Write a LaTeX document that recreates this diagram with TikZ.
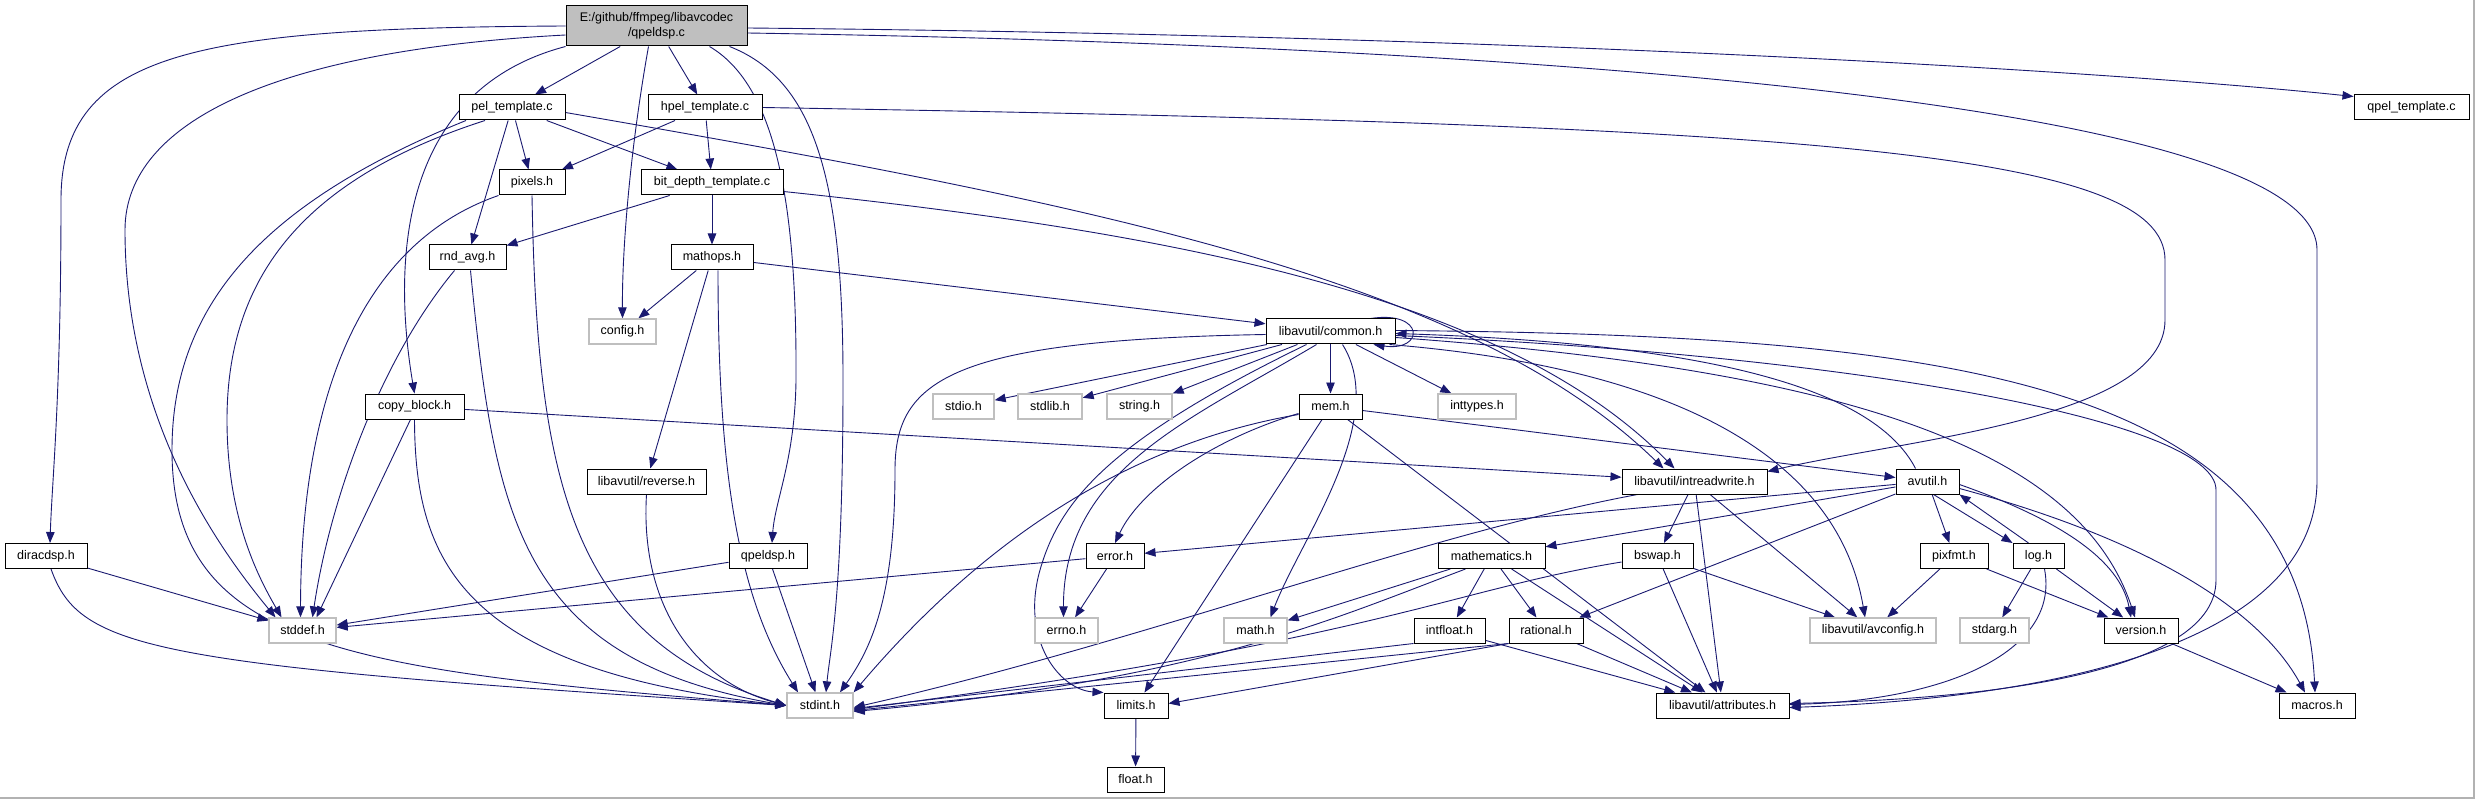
\documentclass[tikz,border=0pt]{standalone}
\usepackage{fontspec}
\setmainfont{Liberation Sans}
\usetikzlibrary{arrows.meta}
\definecolor{edgeblue}{HTML}{191970}
\definecolor{nfgray}{HTML}{BFBFBF}
\pgfdeclarelayer{edges}
\pgfsetlayers{edges,main}
\begin{document}
\begin{tikzpicture}[x=1pt,y=-1pt,font=\fontsize{12.5}{15}\selectfont,
  hdr/.style={draw=black,line width=1pt,fill=white,minimum height=25pt,inner sep=0pt},
  sys/.style={hdr,draw=nfgray,line width=1.3pt},
  top/.style={hdr,fill=nfgray,minimum height=40pt,align=center},
  inc/.style={draw=edgeblue,line width=0.9pt,-{Triangle[length=11pt,width=8.5pt]}}]
  \useasboundingbox (0,0) rectangle (2475,799);
  \node[top,minimum width=181pt] (main) at (656.5,26) {E:/github/ffmpeg/libavcodec\\/qpeldsp.c};
  \node[hdr,minimum width=106pt] (pel) at (512,107.5) {pel\_template.c};
  \node[hdr,minimum width=114pt] (hpel) at (705,107.5) {hpel\_template.c};
  \node[hdr,minimum width=115pt] (qpel) at (2411.5,107.5) {qpel\_template.c};
  \node[hdr,minimum width=66pt] (pixels) at (532,182.5) {pixels.h};
  \node[hdr,minimum width=142pt] (bitdepth) at (712,182.5) {bit\_depth\_template.c};
  \node[hdr,minimum width=77pt] (rndavg) at (467.5,257.5) {rnd\_avg.h};
  \node[hdr,minimum width=82pt] (mathops) at (712,257.5) {mathops.h};
  \node[sys,minimum width=67pt] (config) at (622.5,331.5) {config.h};
  \node[hdr,minimum width=129pt] (common) at (1330.5,331.5) {libavutil/common.h};
  \node[hdr,minimum width=99pt] (copyblock) at (414.5,406.5) {copy\_block.h};
  \node[sys,minimum width=61pt] (stdio) at (963.5,406.5) {stdio.h};
  \node[sys,minimum width=64pt] (stdlib) at (1050,406.5) {stdlib.h};
  \node[sys,minimum width=65pt] (string) at (1139.5,406.5) {string.h};
  \node[hdr,minimum width=63pt] (mem) at (1330.5,406.5) {mem.h};
  \node[sys,minimum width=78pt] (inttypes) at (1477,406.5) {inttypes.h};
  \node[hdr,minimum width=119pt] (reverse) at (646.5,481.5) {libavutil/reverse.h};
  \node[hdr,minimum width=145pt] (intreadwrite) at (1694.5,481.5) {libavutil/intreadwrite.h};
  \node[hdr,minimum width=63pt] (avutil) at (1927.5,481.5) {avutil.h};
  \node[hdr,minimum width=82pt] (diracdsp) at (46,556) {diracdsp.h};
  \node[hdr,minimum width=78pt] (qpeldsph) at (768,556) {qpeldsp.h};
  \node[hdr,minimum width=58pt] (error) at (1115,556) {error.h};
  \node[hdr,minimum width=107pt] (mathematics) at (1491.5,556) {mathematics.h};
  \node[hdr,minimum width=71pt] (bswap) at (1657.5,556) {bswap.h};
  \node[hdr,minimum width=68pt] (pixfmt) at (1954,556) {pixfmt.h};
  \node[hdr,minimum width=51pt] (log) at (2038.5,556) {log.h};
  \node[sys,minimum width=67pt] (stddef) at (302.5,630.5) {stddef.h};
  \node[sys,minimum width=63pt] (errno) at (1066.5,630.5) {errno.h};
  \node[sys,minimum width=63pt] (math) at (1255.5,630.5) {math.h};
  \node[hdr,minimum width=71pt] (intfloat) at (1449.5,630.5) {intfloat.h};
  \node[hdr,minimum width=74pt] (rational) at (1546,630.5) {rational.h};
  \node[sys,minimum width=126pt] (avconfig) at (1873,630.5) {libavutil/avconfig.h};
  \node[sys,minimum width=69pt] (stdarg) at (1994.5,630.5) {stdarg.h};
  \node[hdr,minimum width=74pt] (version) at (2141,630.5) {version.h};
  \node[sys,minimum width=66pt] (stdint) at (820,705.5) {stdint.h};
  \node[hdr,minimum width=64pt] (limits) at (1136,705.5) {limits.h};
  \node[hdr,minimum width=133pt] (attributes) at (1722.5,705.5) {libavutil/attributes.h};
  \node[hdr,minimum width=76pt] (macros) at (2317,705.5) {macros.h};
  \node[hdr,minimum width=57pt] (float) at (1135.5,779.5) {float.h};

  \begin{pgfonlayer}{edges}
  \fill[white] (0,0) rectangle (2475,799);
  \draw[black!30,line width=1.5pt] (0,798) -- (2474,798) -- (2474,0);

  \draw[inc] (main) -- (pel);
  \draw[inc] (main) -- (hpel);
  \draw[inc] ([yshift=-2pt]main.east) .. controls (1500,35) and (2100,70) .. ([yshift=-2pt]qpel.north west);
  \draw[inc] ([xshift=-8pt]main.south) .. controls (630,150) and (622,250) .. (config.north);
  \draw[inc] (main.south west) .. controls (400,90) and (392,260) .. (copyblock.north);
  \draw[inc] (main.west) .. controls (200,28) and (61,50) .. (61,200) .. controls (61,400) and (52,480) .. ([xshift=4pt]diracdsp.north);
  \draw[inc] ([yshift=-9pt]main.west) .. controls (280,50) and (125,120) .. (125,230) .. controls (125,420) and (220,550) .. ([xshift=-27pt]stddef.north);
  \draw[inc] ([xshift=-18pt]main.south east) .. controls (815,80) and (843,180) .. (843,380) .. controls (843,600) and (830,650) .. ([xshift=6pt]stdint.north);
  \draw[inc] ([xshift=-38pt]main.south east) .. controls (775,85) and (797,200) .. (796,380) .. controls (795,460) and (775,500) .. ([xshift=4pt]qpeldsph.north);
  \draw[inc] ([yshift=-7pt]main.east) .. controls (1500,45) and (2317,100) .. (2317,250) -- (2317,480) .. controls (2317,660) and (2000,700) .. ([yshift=-2pt]attributes.east);

  \draw[inc] (pel) -- (pixels);
  \draw[inc] (pel) -- (rndavg);
  \draw[inc] (pel) -- (bitdepth);
  \draw[inc] ([yshift=-5pt]pel.east) .. controls (1100,205) and (1470,280) .. ([xshift=-31pt]intreadwrite.north);
  \draw[inc] ([xshift=-27pt]pel.south) .. controls (300,180) and (227,280) .. (227,420) .. controls (227,520) and (260,580) .. ([xshift=-21pt]stddef.north);
  \draw[inc] ([xshift=-46pt]pel.south) .. controls (270,200) and (172,300) .. (172,450) .. controls (172,650) and (350,670) .. (stdint.west);
  \draw[inc] (hpel) -- (pixels);
  \draw[inc] (hpel) -- (bitdepth);
  \draw[inc] (hpel.east) .. controls (1800,125) and (2165,150) .. (2165,260) -- (2165,320) .. controls (2165,420) and (1900,440) .. ([yshift=-3pt]intreadwrite.north east);

  \draw[inc] (pixels.south west) .. controls (370,240) and (301,380) .. ([xshift=-2pt]stddef.north);
  \draw[inc] (pixels.south) .. controls (537,480) and (570,640) .. (stdint.west);
  \draw[inc] (bitdepth) -- (rndavg);
  \draw[inc] (bitdepth) -- (mathops);
  \draw[inc] ([yshift=-9pt]bitdepth.east) .. controls (1150,230) and (1500,290) .. ([xshift=-20pt]intreadwrite.north);
  \draw[inc] ([xshift=-13pt]rndavg.south) .. controls (380,360) and (330,500) .. ([xshift=10pt]stddef.north);
  \draw[inc] ([xshift=3pt]rndavg.south) .. controls (495,520) and (520,660) .. (stdint.west);
  \draw[inc] (mathops) -- (config);
  \draw[inc] (mathops) -- (common);
  \draw[inc] (mathops) -- (reverse);
  \draw[inc] ([xshift=6pt]mathops.south) .. controls (718,480) and (740,600) .. ([xshift=-22pt]stdint.north);
  \draw[inc] (reverse.south) .. controls (640,600) and (690,680) .. (stdint.west);

  \draw[inc] ([xshift=-4pt]copyblock.south) -- ([xshift=14pt]stddef.north);
  \draw[inc] (copyblock.south) .. controls (415,560) and (460,670) .. (stdint.west);
  \draw[inc] (copyblock) -- (intreadwrite);
  \draw[inc] (diracdsp) -- (stddef);
  \draw[inc] ([xshift=5pt]diracdsp.south) .. controls (80,650) and (150,665) .. (stdint.west);
  \draw[inc] (qpeldsph) -- (stddef);
  \draw[inc] (qpeldsph) -- (stdint);
  \draw[inc] (error) -- (stddef);
  \draw[inc] (error) -- (errno);

  \draw[inc] ([xshift=-25pt]common.north east) .. controls (1425,310) and (1425,352) .. ([xshift=-22pt]common.south east);
  \draw[inc] (common) -- (stdio);
  \draw[inc] (common) -- (stdlib);
  \draw[inc] (common) -- (string);
  \draw[inc] (common) -- (mem);
  \draw[inc] (common) -- (inttypes);
  \draw[inc] ([yshift=-3pt]common.west) .. controls (950,340) and (895,380) .. (895,470) .. controls (895,600) and (870,650) .. ([xshift=20pt]stdint.north);
  \draw[inc] ([xshift=-14pt]common.south) .. controls (1190,420) and (1063,470) .. ([xshift=-3pt]errno.north);
  \draw[inc] ([xshift=-24pt]common.south) .. controls (1110,440) and (1060,500) .. (1040,570) .. controls (1020,640) and (1060,690) .. (limits.north west);
  \draw[inc] ([xshift=12pt]common.south) .. controls (1390,420) and (1300,540) .. ([xshift=15pt]math.north);
  \draw[inc] ([yshift=1pt]common.east) .. controls (1950,335) and (2300,380) .. ([xshift=-2pt]macros.north);
  \draw[inc] ([yshift=-4pt]common.east) .. controls (1850,355) and (2216,420) .. (2216,490) -- (2216,580) .. controls (2216,680) and (1950,700) .. ([yshift=2pt]attributes.east);
  \draw[inc] ([yshift=-6pt]common.east) .. controls (1850,370) and (2080,450) .. ([xshift=-6pt]version.north);
  \draw[inc] ([xshift=-6pt]common.south east) .. controls (1700,370) and (1840,470) .. ([xshift=-8pt]avconfig.north);

  \draw[inc] ([yshift=-7pt]mem.west) .. controls (1210,440) and (1140,490) .. (error.north);
  \draw[inc] ([yshift=-8pt]mem.west) .. controls (1150,440) and (1000,520) .. (stdint.north east);
  \draw[inc] (mem) -- (limits);
  \draw[inc] (mem) -- (attributes);
  \draw[inc] (mem) -- (avutil);

  \draw[inc] ([xshift=-12pt]avutil.north) .. controls (1880,400) and (1750,345) .. ([yshift=-2pt]common.east);
  \draw[inc] (avutil) -- (error);
  \draw[inc] (avutil) -- (mathematics);
  \draw[inc] (avutil) -- (rational);
  \draw[inc] (avutil) -- (pixfmt);
  \draw[inc] ([xshift=6pt]avutil.south) -- (log.north west);
  \draw[inc] ([xshift=-10pt]log.north) -- (avutil.south east);
  \draw[inc] ([yshift=-3pt]avutil.east) .. controls (2060,520) and (2120,560) .. ([xshift=-10pt]version.north);
  \draw[inc] ([yshift=-7pt]avutil.east) .. controls (2150,540) and (2260,610) .. ([xshift=-12pt]macros.north);

  \draw[inc] (intreadwrite) -- (bswap);
  \draw[inc] (intreadwrite) -- (attributes);
  \draw[inc] (intreadwrite) -- (avconfig);
  \draw[inc] ([xshift=-57pt]intreadwrite.south) .. controls (1420,535) and (1150,640) .. ([yshift=-2pt]stdint.east);
  \draw[inc] (bswap) -- (avconfig);
  \draw[inc] (bswap) -- (attributes);
  \draw[inc] ([yshift=-6pt]bswap.west) .. controls (1450,590) and (1380,640) .. ([yshift=-4pt]stdint.east);
  \draw[inc] (mathematics) -- (math);
  \draw[inc] (mathematics) -- (intfloat);
  \draw[inc] (mathematics) -- (rational);
  \draw[inc] (mathematics) -- (attributes);
  \draw[inc] ([xshift=-26pt]mathematics.south) .. controls (1330,620) and (1200,680) .. ([yshift=-6pt]stdint.east);
  \draw[inc] (intfloat.south west) -- ([yshift=-3pt]stdint.east);
  \draw[inc] (intfloat) -- (attributes);
  \draw[inc] (rational.south west) -- ([yshift=-5pt]stdint.east);
  \draw[inc] (rational.south west) -- ([yshift=2pt]limits.east);
  \draw[inc] (rational) -- (attributes);
  \draw[inc] (pixfmt) -- (avconfig);
  \draw[inc] (pixfmt) -- (version);
  \draw[inc] (log) -- (stdarg);
  \draw[inc] (log) -- (version);
  \draw[inc] ([xshift=6pt]log.south) .. controls (2060,650) and (1950,700) .. ([yshift=1pt]attributes.east);
  \draw[inc] (version) -- (macros);
  \draw[inc] (limits) -- (float);
  \end{pgfonlayer}
\end{tikzpicture}
\end{document}
